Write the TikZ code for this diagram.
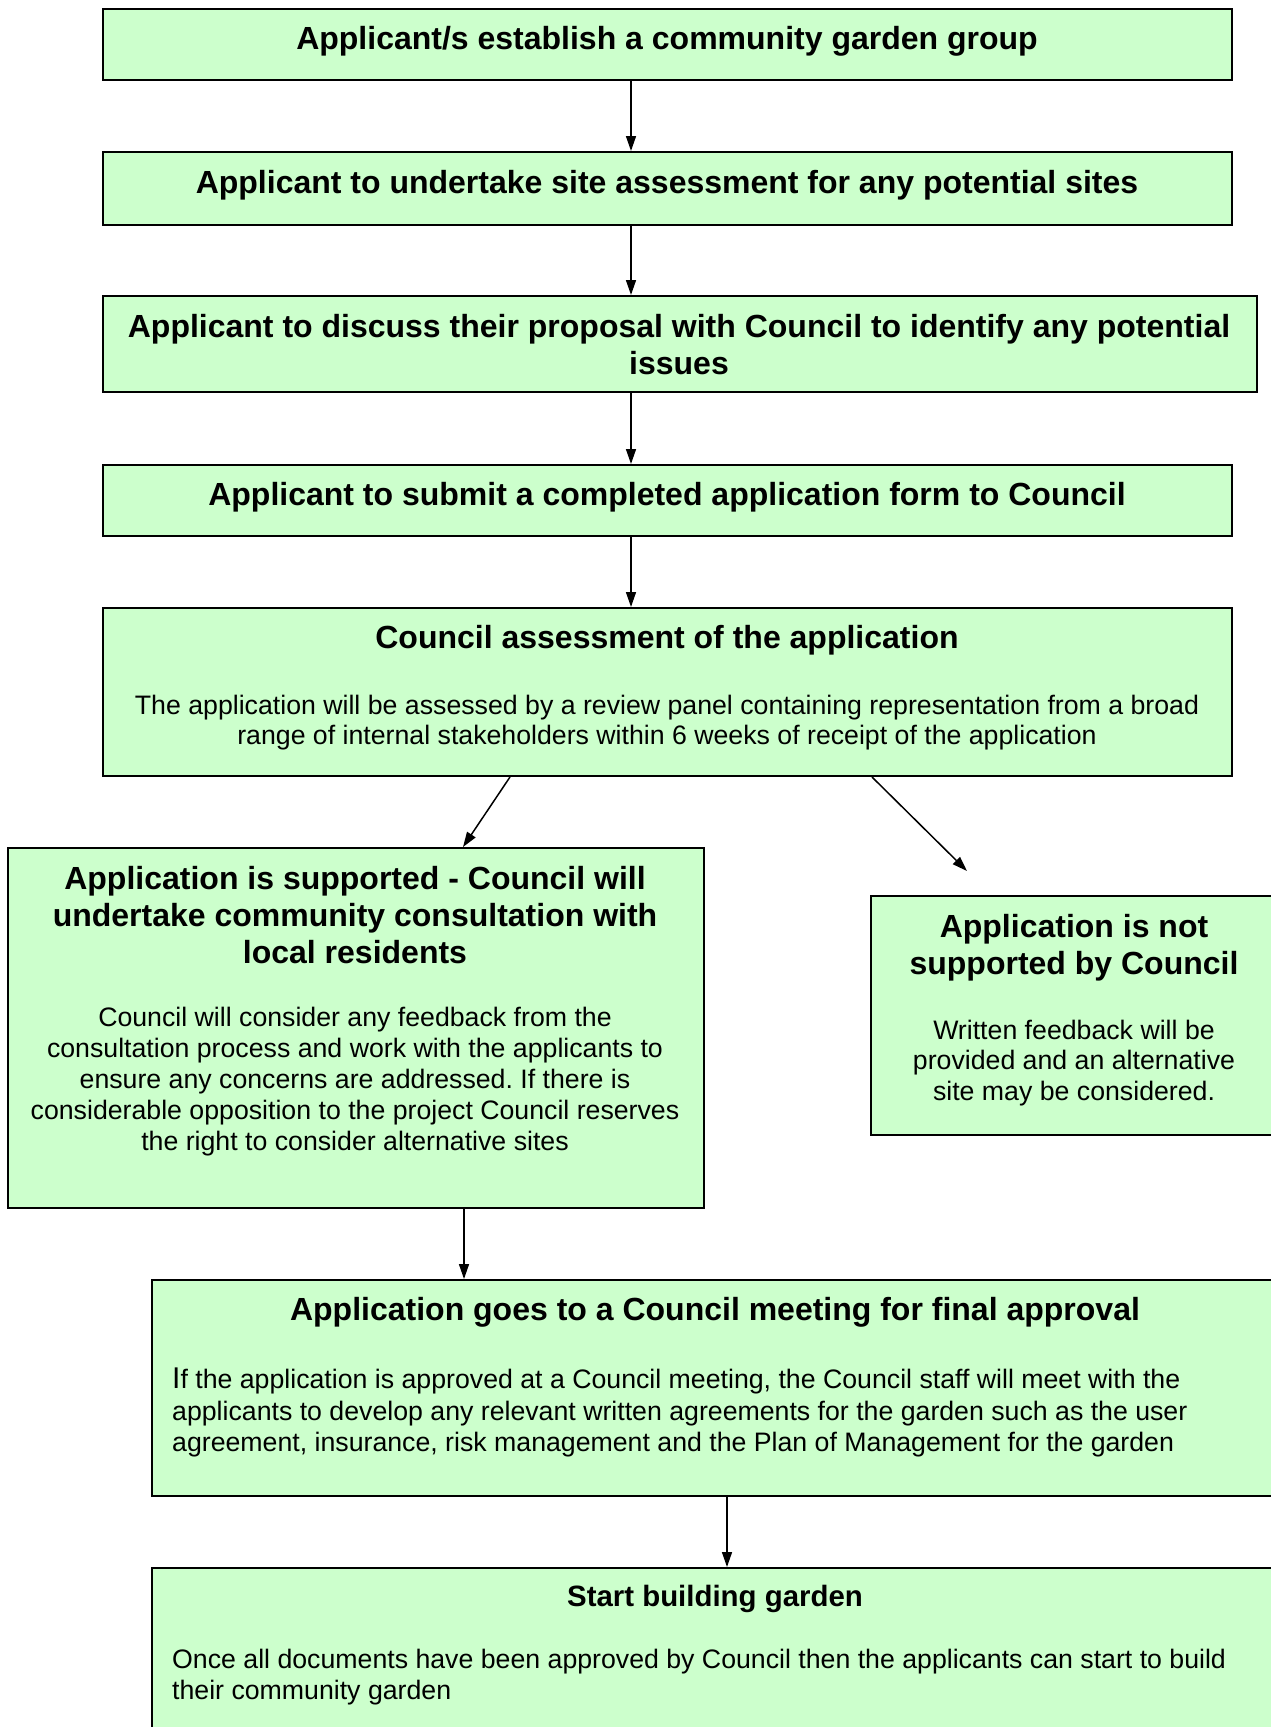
\documentclass[tikz,border=0pt]{standalone}
\usepackage{fontspec}
\setmainfont{Liberation Sans}
\usetikzlibrary{arrows.meta}
\definecolor{boxgreen}{HTML}{CCFFCC}
\begin{document}
\frenchspacing
\begin{tikzpicture}[x=1pt,y=-1pt,
  stepbox/.style={draw=black, line width=2pt, fill=boxgreen, rectangle, inner sep=0pt, anchor=north west},
  ttl/.style={font=\fontsize{32}{37}\selectfont\bfseries, align=center, inner sep=0pt},
  bdy/.style={font=\fontsize{26.7}{30.8}\selectfont, align=center, inner sep=0pt},
  bdyl/.style={font=\fontsize{26.7}{31.4}\selectfont, align=left, inner sep=0pt, anchor=west},
  conn/.style={line width=1.5pt, -{Triangle[length=15pt,width=10pt]}}]
\useasboundingbox (0,0) rectangle (1271,1727);
\clip (0,0) rectangle (1271,1727);
% boxes
\node[stepbox, minimum width=1129, minimum height=71] (b1) at (102,8) {};
\node[stepbox, minimum width=1129, minimum height=73] (b2) at (102,151) {};
\node[stepbox, minimum width=1154, minimum height=96] (b3) at (102,295) {};
\node[stepbox, minimum width=1129, minimum height=71] (b4) at (102,464) {};
\node[stepbox, minimum width=1129, minimum height=168] (b5) at (102,607) {};
\node[stepbox, minimum width=696, minimum height=360] (b6) at (7,847) {};
\node[stepbox, minimum width=408, minimum height=239] (b7) at (870,895) {};
\node[stepbox, minimum width=1128, minimum height=216] (b8) at (151,1279) {};
\node[stepbox, minimum width=1128, minimum height=220] (b9) at (151,1567) {};
% texts
\node[ttl] (t1) at (667,41.5) {Applicant/s establish a community garden group};
\node[ttl] (t2) at (667,185.5) {Applicant to undertake site assessment for any potential sites};
\node[ttl] (t3) at (679,344.5) {Applicant to discuss their proposal with Council to identify any potential\\issues};
\node[ttl] (t4) at (667,497.5) {Applicant to submit a completed application form to Council};
\node[ttl] (t5) at (667,640.5) {Council assessment of the application};
\node[bdy] (s5) at (667,722.5) {The application will be assessed by a review panel containing representation from a broad\\range of internal stakeholders within 6 weeks of receipt of the application};
\node[ttl] (t6) at (355,915) {Application is supported - Council will\\undertake community consultation with\\local residents};
\node[bdy] (s6) at (355,1081.5) {Council will consider any feedback from the\\consultation process and work with the applicants to\\ensure any concerns are addressed. If there is\\considerable opposition to the project Council reserves\\the right to consider alternative sites};
\node[ttl] (t7) at (1074,947.5) {Application is not\\supported by Council};
\node[bdy] (s7) at (1074,1063) {Written feedback will be\\provided and an alternative\\site may be considered.};
\node[ttl] (t8) at (715,1312.5) {Application goes to a Council meeting for final approval};
\node[bdyl] (s8) at (172,1412.5) {{\fontsize{30}{31.4}\selectfont I}f the application is approved at a Council meeting, the Council staff will meet with the\\applicants to develop any relevant written agreements for the garden such as the user\\agreement, insurance, risk management and the Plan of Management for the garden};
\node[ttl, font=\fontsize{29.4}{34}\selectfont\bfseries] (t9) at (715,1599) {Start building garden};
\node[bdyl] (s9) at (172,1677) {Once all documents have been approved by Council then the applicants can start to build\\their community garden};
% connector helper coordinates
\coordinate (xa) at (631,0);
\coordinate (xl1) at (510,0);
\coordinate (xl2) at (463,0);
\coordinate (xr1) at (872,0);
\coordinate (rend) at (967,871);
\coordinate (xs) at (464,0);
\coordinate (xf) at (727,0);
% connectors
\draw[conn] (b1.south -| xa) -- (b2.north -| xa);
\draw[conn] (b2.south -| xa) -- (b3.north -| xa);
\draw[conn] (b3.south -| xa) -- (b4.north -| xa);
\draw[conn] (b4.south -| xa) -- (b5.north -| xa);
\draw[conn] (b5.south -| xl1) -- (b6.north -| xl2);
\draw[conn] (b5.south -| xr1) -- (rend);
\draw[conn] (b6.south -| xs) -- (b8.north -| xs);
\draw[conn] (b8.south -| xf) -- (b9.north -| xf);
\end{tikzpicture}
\end{document}
